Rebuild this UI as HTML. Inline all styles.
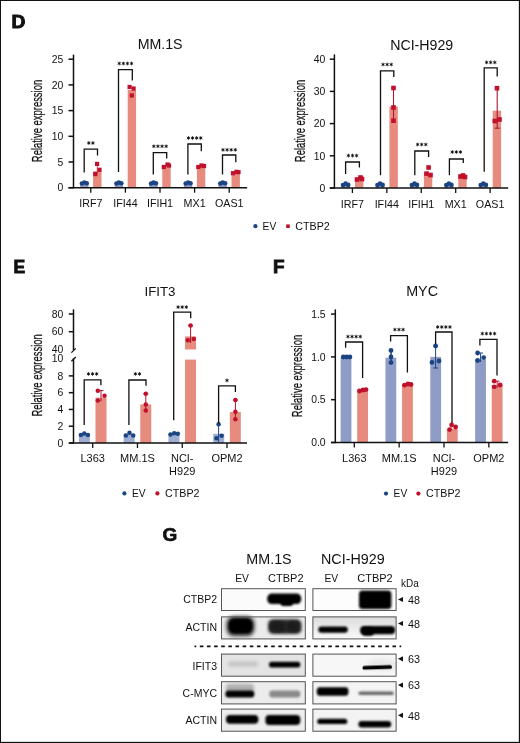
<!DOCTYPE html>
<html><head><meta charset="utf-8"><title>Figure</title>
<style>
html,body{margin:0;padding:0;background:#fff;overflow:hidden;width:520px;height:743px;}
#fig{position:relative;width:520px;height:743px;overflow:hidden;background:#fff;}
#fig svg{position:absolute;left:0;top:0;will-change:transform;}
text{font-family:"Liberation Sans", sans-serif;}
</style></head><body>
<div id="fig">
<svg width="520" height="743" viewBox="0 0 520 743" font-family="Liberation Sans, sans-serif">
<defs><filter id="b5" x="-50%" y="-100%" width="200%" height="300%"><feGaussianBlur stdDeviation="0.5"/></filter><filter id="b6" x="-50%" y="-100%" width="200%" height="300%"><feGaussianBlur stdDeviation="0.6"/></filter><filter id="b7" x="-50%" y="-100%" width="200%" height="300%"><feGaussianBlur stdDeviation="0.7"/></filter><filter id="b8" x="-50%" y="-100%" width="200%" height="300%"><feGaussianBlur stdDeviation="0.8"/></filter><filter id="b9" x="-50%" y="-100%" width="200%" height="300%"><feGaussianBlur stdDeviation="0.9"/></filter><filter id="b10" x="-50%" y="-100%" width="200%" height="300%"><feGaussianBlur stdDeviation="1.0"/></filter><filter id="b11" x="-50%" y="-100%" width="200%" height="300%"><feGaussianBlur stdDeviation="1.1"/></filter><filter id="b12" x="-50%" y="-100%" width="200%" height="300%"><feGaussianBlur stdDeviation="1.2"/></filter><filter id="b13" x="-50%" y="-100%" width="200%" height="300%"><feGaussianBlur stdDeviation="1.3"/></filter><filter id="b14" x="-50%" y="-100%" width="200%" height="300%"><feGaussianBlur stdDeviation="1.4"/></filter><filter id="b15" x="-50%" y="-100%" width="200%" height="300%"><feGaussianBlur stdDeviation="1.5"/></filter><filter id="b16" x="-50%" y="-100%" width="200%" height="300%"><feGaussianBlur stdDeviation="1.6"/></filter><filter id="b17" x="-50%" y="-100%" width="200%" height="300%"><feGaussianBlur stdDeviation="1.7"/></filter><filter id="b18" x="-50%" y="-100%" width="200%" height="300%"><feGaussianBlur stdDeviation="1.8"/></filter><filter id="b19" x="-50%" y="-100%" width="200%" height="300%"><feGaussianBlur stdDeviation="1.9"/></filter><linearGradient id="gH2" x1="0" y1="0" x2="0" y2="1"><stop offset="0" stop-color="#dcdcdc"/><stop offset="1" stop-color="#fafafa"/></linearGradient></defs>
<rect x="0" y="0" width="520" height="743" fill="#fff"/>
<text transform="translate(11.6,27.5) scale(1.08,1)" x="0" y="0" font-size="17.8" font-weight="bold" fill="#111" stroke="#111" stroke-width="0.9">D</text>
<text x="160.1" y="49.4" font-size="14.2" text-anchor="middle" font-weight="normal" fill="#111" >MM.1S</text>
<line x1="73.5" y1="54.6" x2="73.5" y2="188.29999999999998" stroke="#111" stroke-width="1.5" />
<line x1="68.5" y1="187.7" x2="73.5" y2="187.7" stroke="#111" stroke-width="1.5" />
<text x="63.3" y="191.39999999999998" font-size="10.4" text-anchor="end" font-weight="normal" fill="#111" >0</text>
<line x1="68.5" y1="162.0" x2="73.5" y2="162.0" stroke="#111" stroke-width="1.5" />
<text x="63.3" y="165.7" font-size="10.4" text-anchor="end" font-weight="normal" fill="#111" >5</text>
<line x1="68.5" y1="136.29999999999998" x2="73.5" y2="136.29999999999998" stroke="#111" stroke-width="1.5" />
<text x="63.3" y="139.99999999999997" font-size="10.4" text-anchor="end" font-weight="normal" fill="#111" >10</text>
<line x1="68.5" y1="110.6" x2="73.5" y2="110.6" stroke="#111" stroke-width="1.5" />
<text x="63.3" y="114.3" font-size="10.4" text-anchor="end" font-weight="normal" fill="#111" >15</text>
<line x1="68.5" y1="84.89999999999999" x2="73.5" y2="84.89999999999999" stroke="#111" stroke-width="1.5" />
<text x="63.3" y="88.6" font-size="10.4" text-anchor="end" font-weight="normal" fill="#111" >20</text>
<line x1="68.5" y1="59.19999999999999" x2="73.5" y2="59.19999999999999" stroke="#111" stroke-width="1.5" />
<text x="63.3" y="62.89999999999999" font-size="10.4" text-anchor="end" font-weight="normal" fill="#111" >25</text>
<text transform="translate(42.3,121) rotate(-90)" x="0" y="0" font-size="15" text-anchor="middle" fill="#111" stroke="#111" stroke-width="0.25" textLength="82.3" lengthAdjust="spacingAndGlyphs">Relative expression</text>
<rect x="80.1" y="182.56" width="8.4" height="5.14" fill="#8f9dc6" />
<rect x="93.1" y="171.25199999999998" width="8.4" height="16.448" fill="#e78b7e" />
<line x1="90.8" y1="187.7" x2="90.8" y2="192.7" stroke="#111" stroke-width="1.3" />
<text transform="translate(90.8,207.4) scale(1.05,1.0)" x="0" y="0" font-size="10.2" text-anchor="middle" fill="#111">IRF7</text>
<circle cx="81.89999999999999" cy="183.474" r="2.3" fill="#1b4482"/>
<circle cx="84.3" cy="182.446" r="2.3" fill="#1b4482"/>
<circle cx="86.7" cy="183.21699999999998" r="2.3" fill="#1b4482"/>
<rect x="114.7" y="182.56" width="8.4" height="5.14" fill="#8f9dc6" />
<rect x="127.7" y="90.03999999999999" width="8.4" height="97.66" fill="#e78b7e" />
<line x1="125.4" y1="187.7" x2="125.4" y2="192.7" stroke="#111" stroke-width="1.3" />
<text transform="translate(125.4,207.4) scale(1.05,1.0)" x="0" y="0" font-size="10.2" text-anchor="middle" fill="#111">IFI44</text>
<circle cx="116.5" cy="183.474" r="2.3" fill="#1b4482"/>
<circle cx="118.9" cy="182.446" r="2.3" fill="#1b4482"/>
<circle cx="121.30000000000001" cy="183.21699999999998" r="2.3" fill="#1b4482"/>
<rect x="149.3" y="182.56" width="8.4" height="5.14" fill="#8f9dc6" />
<rect x="162.3" y="165.084" width="8.4" height="22.616" fill="#e78b7e" />
<line x1="160.0" y1="187.7" x2="160.0" y2="192.7" stroke="#111" stroke-width="1.3" />
<text transform="translate(160.0,207.4) scale(1.05,1.0)" x="0" y="0" font-size="10.2" text-anchor="middle" fill="#111">IFIH1</text>
<circle cx="151.1" cy="183.474" r="2.3" fill="#1b4482"/>
<circle cx="153.5" cy="182.446" r="2.3" fill="#1b4482"/>
<circle cx="155.9" cy="183.21699999999998" r="2.3" fill="#1b4482"/>
<rect x="183.90000000000003" y="182.56" width="8.4" height="5.14" fill="#8f9dc6" />
<rect x="196.90000000000003" y="166.112" width="8.4" height="21.588" fill="#e78b7e" />
<line x1="194.60000000000002" y1="187.7" x2="194.60000000000002" y2="192.7" stroke="#111" stroke-width="1.3" />
<text transform="translate(194.60000000000002,207.4) scale(1.05,1.0)" x="0" y="0" font-size="10.2" text-anchor="middle" fill="#111">MX1</text>
<circle cx="185.70000000000002" cy="183.474" r="2.3" fill="#1b4482"/>
<circle cx="188.10000000000002" cy="182.446" r="2.3" fill="#1b4482"/>
<circle cx="190.50000000000003" cy="183.21699999999998" r="2.3" fill="#1b4482"/>
<rect x="218.5" y="182.56" width="8.4" height="5.14" fill="#8f9dc6" />
<rect x="231.5" y="171.766" width="8.4" height="15.934" fill="#e78b7e" />
<line x1="229.2" y1="187.7" x2="229.2" y2="192.7" stroke="#111" stroke-width="1.3" />
<text transform="translate(229.2,207.4) scale(1.05,1.0)" x="0" y="0" font-size="10.2" text-anchor="middle" fill="#111">OAS1</text>
<circle cx="220.29999999999998" cy="183.474" r="2.3" fill="#1b4482"/>
<circle cx="222.7" cy="182.446" r="2.3" fill="#1b4482"/>
<circle cx="225.1" cy="183.21699999999998" r="2.3" fill="#1b4482"/>
<line x1="68.5" y1="187.7" x2="247.2" y2="187.7" stroke="#111" stroke-width="1.5" />
<line x1="97.3" y1="163.9" x2="97.3" y2="174" stroke="#d23a50" stroke-width="0.9" />
<rect x="95.0" y="161.8" width="4.2" height="4.2" fill="#c0102c"/>
<rect x="97.4" y="167.70000000000002" width="4.2" height="4.2" fill="#c0102c"/>
<rect x="93.2" y="172.0" width="4.2" height="4.2" fill="#c0102c"/>
<rect x="127.5" y="84.9" width="4.2" height="4.2" fill="#c0102c"/>
<rect x="131.5" y="86.4" width="4.2" height="4.2" fill="#c0102c"/>
<rect x="129.70000000000002" y="93.4" width="4.2" height="4.2" fill="#c0102c"/>
<rect x="161.70000000000002" y="164.9" width="4.2" height="4.2" fill="#c0102c"/>
<rect x="165.4" y="162.4" width="4.2" height="4.2" fill="#c0102c"/>
<rect x="166.9" y="163.4" width="4.2" height="4.2" fill="#c0102c"/>
<rect x="196.20000000000002" y="164.9" width="4.2" height="4.2" fill="#c0102c"/>
<rect x="199.4" y="163.4" width="4.2" height="4.2" fill="#c0102c"/>
<rect x="201.9" y="163.9" width="4.2" height="4.2" fill="#c0102c"/>
<rect x="230.9" y="171.1" width="4.2" height="4.2" fill="#c0102c"/>
<rect x="234.4" y="169.70000000000002" width="4.2" height="4.2" fill="#c0102c"/>
<rect x="236.4" y="170.1" width="4.2" height="4.2" fill="#c0102c"/>
<polyline points="84.2,172.4 84.2,149.1 97.5,149.1 97.5,155.4" fill="none" stroke="#111" stroke-width="1.3"/>
<path d="M88.80,141.55L88.80,144.45M90.06,142.28L87.54,143.72M90.06,143.72L87.54,142.28" stroke="#111" stroke-width="0.85" stroke-linecap="round"/>
<circle cx="88.8" cy="143" r="0.75" fill="#111"/>
<path d="M92.90,141.55L92.90,144.45M94.16,142.28L91.64,143.72M94.16,143.72L91.64,142.28" stroke="#111" stroke-width="0.85" stroke-linecap="round"/>
<circle cx="92.9" cy="143" r="0.75" fill="#111"/>
<polyline points="118.5,172 118.5,69.7 132.3,69.7 132.3,80.5" fill="none" stroke="#111" stroke-width="1.3"/>
<path d="M119.25,62.05L119.25,64.95M120.51,62.77L117.99,64.22M120.51,64.22L117.99,62.77" stroke="#111" stroke-width="0.85" stroke-linecap="round"/>
<circle cx="119.25" cy="63.5" r="0.75" fill="#111"/>
<path d="M123.35,62.05L123.35,64.95M124.61,62.77L122.09,64.22M124.61,64.22L122.09,62.77" stroke="#111" stroke-width="0.85" stroke-linecap="round"/>
<circle cx="123.35" cy="63.5" r="0.75" fill="#111"/>
<path d="M127.45,62.05L127.45,64.95M128.71,62.77L126.19,64.22M128.71,64.22L126.19,62.77" stroke="#111" stroke-width="0.85" stroke-linecap="round"/>
<circle cx="127.45" cy="63.5" r="0.75" fill="#111"/>
<path d="M131.55,62.05L131.55,64.95M132.81,62.77L130.29,64.22M132.81,64.22L130.29,62.77" stroke="#111" stroke-width="0.85" stroke-linecap="round"/>
<circle cx="131.55" cy="63.5" r="0.75" fill="#111"/>
<polyline points="153.3,174.6 153.3,152.7 166.7,152.7 166.7,158.5" fill="none" stroke="#111" stroke-width="1.3"/>
<path d="M153.85,144.85L153.85,147.75M155.11,145.58L152.59,147.03M155.11,147.03L152.59,145.58" stroke="#111" stroke-width="0.85" stroke-linecap="round"/>
<circle cx="153.85" cy="146.3" r="0.75" fill="#111"/>
<path d="M157.95,144.85L157.95,147.75M159.21,145.58L156.69,147.03M159.21,147.03L156.69,145.58" stroke="#111" stroke-width="0.85" stroke-linecap="round"/>
<circle cx="157.95" cy="146.3" r="0.75" fill="#111"/>
<path d="M162.05,144.85L162.05,147.75M163.31,145.58L160.79,147.03M163.31,147.03L160.79,145.58" stroke="#111" stroke-width="0.85" stroke-linecap="round"/>
<circle cx="162.05" cy="146.3" r="0.75" fill="#111"/>
<path d="M166.15,144.85L166.15,147.75M167.41,145.58L164.89,147.03M167.41,147.03L164.89,145.58" stroke="#111" stroke-width="0.85" stroke-linecap="round"/>
<circle cx="166.15" cy="146.3" r="0.75" fill="#111"/>
<polyline points="187.9,174.6 187.9,144 201.3,144 201.3,151.2" fill="none" stroke="#111" stroke-width="1.3"/>
<path d="M188.45,136.55L188.45,139.45M189.71,137.28L187.19,138.72M189.71,138.72L187.19,137.28" stroke="#111" stroke-width="0.85" stroke-linecap="round"/>
<circle cx="188.45" cy="138" r="0.75" fill="#111"/>
<path d="M192.55,136.55L192.55,139.45M193.81,137.28L191.29,138.72M193.81,138.72L191.29,137.28" stroke="#111" stroke-width="0.85" stroke-linecap="round"/>
<circle cx="192.55" cy="138" r="0.75" fill="#111"/>
<path d="M196.65,136.55L196.65,139.45M197.91,137.28L195.39,138.72M197.91,138.72L195.39,137.28" stroke="#111" stroke-width="0.85" stroke-linecap="round"/>
<circle cx="196.65" cy="138" r="0.75" fill="#111"/>
<path d="M200.75,136.55L200.75,139.45M202.01,137.28L199.49,138.72M202.01,138.72L199.49,137.28" stroke="#111" stroke-width="0.85" stroke-linecap="round"/>
<circle cx="200.75" cy="138" r="0.75" fill="#111"/>
<polyline points="222.5,174.6 222.5,155 235.8,155 235.8,162.3" fill="none" stroke="#111" stroke-width="1.3"/>
<path d="M223.00,148.35L223.00,151.25M224.26,149.08L221.74,150.53M224.26,150.53L221.74,149.08" stroke="#111" stroke-width="0.85" stroke-linecap="round"/>
<circle cx="223.0" cy="149.8" r="0.75" fill="#111"/>
<path d="M227.10,148.35L227.10,151.25M228.36,149.08L225.84,150.53M228.36,150.53L225.84,149.08" stroke="#111" stroke-width="0.85" stroke-linecap="round"/>
<circle cx="227.1" cy="149.8" r="0.75" fill="#111"/>
<path d="M231.20,148.35L231.20,151.25M232.46,149.08L229.94,150.53M232.46,150.53L229.94,149.08" stroke="#111" stroke-width="0.85" stroke-linecap="round"/>
<circle cx="231.2" cy="149.8" r="0.75" fill="#111"/>
<path d="M235.30,148.35L235.30,151.25M236.56,149.08L234.04,150.53M236.56,150.53L234.04,149.08" stroke="#111" stroke-width="0.85" stroke-linecap="round"/>
<circle cx="235.3" cy="149.8" r="0.75" fill="#111"/>
<text x="421.7" y="49.9" font-size="14.2" text-anchor="middle" font-weight="normal" fill="#111" >NCI-H929</text>
<line x1="334.4" y1="54.4" x2="334.4" y2="188.6" stroke="#111" stroke-width="1.5" />
<line x1="329.8" y1="188.0" x2="334.4" y2="188.0" stroke="#111" stroke-width="1.5" />
<text x="325.2" y="191.7" font-size="10.4" text-anchor="end" font-weight="normal" fill="#111" >0</text>
<line x1="329.8" y1="155.8" x2="334.4" y2="155.8" stroke="#111" stroke-width="1.5" />
<text x="325.2" y="159.5" font-size="10.4" text-anchor="end" font-weight="normal" fill="#111" >10</text>
<line x1="329.8" y1="123.6" x2="334.4" y2="123.6" stroke="#111" stroke-width="1.5" />
<text x="325.2" y="127.3" font-size="10.4" text-anchor="end" font-weight="normal" fill="#111" >20</text>
<line x1="329.8" y1="91.39999999999999" x2="334.4" y2="91.39999999999999" stroke="#111" stroke-width="1.5" />
<text x="325.2" y="95.1" font-size="10.4" text-anchor="end" font-weight="normal" fill="#111" >30</text>
<line x1="329.8" y1="59.19999999999999" x2="334.4" y2="59.19999999999999" stroke="#111" stroke-width="1.5" />
<text x="325.2" y="62.89999999999999" font-size="10.4" text-anchor="end" font-weight="normal" fill="#111" >40</text>
<text transform="translate(305.2,121) rotate(-90)" x="0" y="0" font-size="15" text-anchor="middle" fill="#111" stroke="#111" stroke-width="0.25" textLength="82.3" lengthAdjust="spacingAndGlyphs">Relative expression</text>
<rect x="341.4" y="184.78" width="8.4" height="3.22" fill="#8f9dc6" />
<rect x="355.0" y="178.984" width="8.4" height="9.016" fill="#e78b7e" />
<line x1="352.4" y1="188.0" x2="352.4" y2="193.0" stroke="#111" stroke-width="1.3" />
<text transform="translate(352.4,207.6) scale(1.05,1.0)" x="0" y="0" font-size="10.2" text-anchor="middle" fill="#111">IRF7</text>
<circle cx="342.99999999999994" cy="185.1" r="2.3" fill="#1b4482"/>
<circle cx="348.2" cy="184.9" r="2.3" fill="#1b4482"/>
<circle cx="345.59999999999997" cy="183.6" r="2.3" fill="#1b4482"/>
<rect x="375.83" y="184.78" width="8.4" height="3.22" fill="#8f9dc6" />
<rect x="389.43" y="106.53399999999999" width="8.4" height="81.46600000000001" fill="#e78b7e" />
<line x1="386.83" y1="188.0" x2="386.83" y2="193.0" stroke="#111" stroke-width="1.3" />
<text transform="translate(386.83,207.6) scale(1.05,1.0)" x="0" y="0" font-size="10.2" text-anchor="middle" fill="#111">IFI44</text>
<circle cx="377.42999999999995" cy="185.1" r="2.3" fill="#1b4482"/>
<circle cx="382.63" cy="184.9" r="2.3" fill="#1b4482"/>
<circle cx="380.03" cy="183.6" r="2.3" fill="#1b4482"/>
<rect x="410.26" y="184.78" width="8.4" height="3.22" fill="#8f9dc6" />
<rect x="423.86" y="173.188" width="8.4" height="14.812" fill="#e78b7e" />
<line x1="421.26" y1="188.0" x2="421.26" y2="193.0" stroke="#111" stroke-width="1.3" />
<text transform="translate(421.26,207.6) scale(1.05,1.0)" x="0" y="0" font-size="10.2" text-anchor="middle" fill="#111">IFIH1</text>
<circle cx="411.85999999999996" cy="185.1" r="2.3" fill="#1b4482"/>
<circle cx="417.06" cy="184.9" r="2.3" fill="#1b4482"/>
<circle cx="414.46" cy="183.6" r="2.3" fill="#1b4482"/>
<rect x="444.68999999999994" y="184.78" width="8.4" height="3.22" fill="#8f9dc6" />
<rect x="458.28999999999996" y="176.73" width="8.4" height="11.270000000000001" fill="#e78b7e" />
<line x1="455.68999999999994" y1="188.0" x2="455.68999999999994" y2="193.0" stroke="#111" stroke-width="1.3" />
<text transform="translate(455.68999999999994,207.6) scale(1.05,1.0)" x="0" y="0" font-size="10.2" text-anchor="middle" fill="#111">MX1</text>
<circle cx="446.2899999999999" cy="185.1" r="2.3" fill="#1b4482"/>
<circle cx="451.48999999999995" cy="184.9" r="2.3" fill="#1b4482"/>
<circle cx="448.88999999999993" cy="183.6" r="2.3" fill="#1b4482"/>
<rect x="479.12" y="184.78" width="8.4" height="3.22" fill="#8f9dc6" />
<rect x="492.72" y="110.72" width="8.4" height="77.28" fill="#e78b7e" />
<line x1="490.12" y1="188.0" x2="490.12" y2="193.0" stroke="#111" stroke-width="1.3" />
<text transform="translate(490.12,207.6) scale(1.05,1.0)" x="0" y="0" font-size="10.2" text-anchor="middle" fill="#111">OAS1</text>
<circle cx="480.71999999999997" cy="185.1" r="2.3" fill="#1b4482"/>
<circle cx="485.92" cy="184.9" r="2.3" fill="#1b4482"/>
<circle cx="483.32" cy="183.6" r="2.3" fill="#1b4482"/>
<line x1="329.8" y1="188.0" x2="508.2" y2="188.0" stroke="#111" stroke-width="1.5" />
<line x1="393.5" y1="87.4" x2="393.5" y2="120.7" stroke="#a81a34" stroke-width="1.1" />
<line x1="497.2" y1="88.2" x2="497.2" y2="128.2" stroke="#a81a34" stroke-width="1.1" />
<line x1="494.7" y1="128.2" x2="499.7" y2="128.2" stroke="#a81a34" stroke-width="1.1" />
<rect x="354.7" y="177.2" width="4.6" height="4.6" fill="#c0102c"/>
<rect x="358.2" y="175.2" width="4.6" height="4.6" fill="#c0102c"/>
<rect x="359.7" y="176.7" width="4.6" height="4.6" fill="#c0102c"/>
<rect x="391.2" y="85.7" width="4.6" height="4.6" fill="#c0102c"/>
<rect x="391.2" y="105.2" width="4.6" height="4.6" fill="#c0102c"/>
<rect x="391.2" y="118.4" width="4.6" height="4.6" fill="#c0102c"/>
<rect x="426.3" y="165.2" width="4.6" height="4.6" fill="#c0102c"/>
<rect x="424.2" y="171.29999999999998" width="4.6" height="4.6" fill="#c0102c"/>
<rect x="428.2" y="172.7" width="4.6" height="4.6" fill="#c0102c"/>
<rect x="458.2" y="174.2" width="4.6" height="4.6" fill="#c0102c"/>
<rect x="460.7" y="173.2" width="4.6" height="4.6" fill="#c0102c"/>
<rect x="462.7" y="174.7" width="4.6" height="4.6" fill="#c0102c"/>
<rect x="494.7" y="85.9" width="4.6" height="4.6" fill="#c0102c"/>
<rect x="492.5" y="118.7" width="4.6" height="4.6" fill="#c0102c"/>
<rect x="497.2" y="117.2" width="4.6" height="4.6" fill="#c0102c"/>
<polyline points="345.6,174 345.6,162 359.4,162 359.4,167.6" fill="none" stroke="#111" stroke-width="1.3"/>
<path d="M348.40,154.15L348.40,157.05M349.66,154.88L347.14,156.32M349.66,156.32L347.14,154.88" stroke="#111" stroke-width="0.85" stroke-linecap="round"/>
<circle cx="348.4" cy="155.6" r="0.75" fill="#111"/>
<path d="M352.50,154.15L352.50,157.05M353.76,154.88L351.24,156.32M353.76,156.32L351.24,154.88" stroke="#111" stroke-width="0.85" stroke-linecap="round"/>
<circle cx="352.5" cy="155.6" r="0.75" fill="#111"/>
<path d="M356.60,154.15L356.60,157.05M357.86,154.88L355.34,156.32M357.86,156.32L355.34,154.88" stroke="#111" stroke-width="0.85" stroke-linecap="round"/>
<circle cx="356.6" cy="155.6" r="0.75" fill="#111"/>
<polyline points="380.5,175.2 380.5,70.8 393.8,70.8 393.8,76.9" fill="none" stroke="#111" stroke-width="1.3"/>
<path d="M383.05,63.05L383.05,65.95M384.31,63.77L381.79,65.22M384.31,65.22L381.79,63.77" stroke="#111" stroke-width="0.85" stroke-linecap="round"/>
<circle cx="383.05" cy="64.5" r="0.75" fill="#111"/>
<path d="M387.15,63.05L387.15,65.95M388.41,63.77L385.89,65.22M388.41,65.22L385.89,63.77" stroke="#111" stroke-width="0.85" stroke-linecap="round"/>
<circle cx="387.15" cy="64.5" r="0.75" fill="#111"/>
<path d="M391.25,63.05L391.25,65.95M392.51,63.77L389.99,65.22M392.51,65.22L389.99,63.77" stroke="#111" stroke-width="0.85" stroke-linecap="round"/>
<circle cx="391.25" cy="64.5" r="0.75" fill="#111"/>
<polyline points="414.8,175.2 414.8,151 428.6,151 428.6,157" fill="none" stroke="#111" stroke-width="1.3"/>
<path d="M417.60,143.05L417.60,145.95M418.86,143.78L416.34,145.22M418.86,145.22L416.34,143.78" stroke="#111" stroke-width="0.85" stroke-linecap="round"/>
<circle cx="417.6" cy="144.5" r="0.75" fill="#111"/>
<path d="M421.70,143.05L421.70,145.95M422.96,143.78L420.44,145.22M422.96,145.22L420.44,143.78" stroke="#111" stroke-width="0.85" stroke-linecap="round"/>
<circle cx="421.7" cy="144.5" r="0.75" fill="#111"/>
<path d="M425.80,143.05L425.80,145.95M427.06,143.78L424.54,145.22M427.06,145.22L424.54,143.78" stroke="#111" stroke-width="0.85" stroke-linecap="round"/>
<circle cx="425.8" cy="144.5" r="0.75" fill="#111"/>
<polyline points="449.4,175.2 449.4,159 463.3,159 463.3,163" fill="none" stroke="#111" stroke-width="1.3"/>
<path d="M452.25,150.55L452.25,153.45M453.51,151.28L450.99,152.72M453.51,152.72L450.99,151.28" stroke="#111" stroke-width="0.85" stroke-linecap="round"/>
<circle cx="452.25" cy="152" r="0.75" fill="#111"/>
<path d="M456.35,150.55L456.35,153.45M457.61,151.28L455.09,152.72M457.61,152.72L455.09,151.28" stroke="#111" stroke-width="0.85" stroke-linecap="round"/>
<circle cx="456.35" cy="152" r="0.75" fill="#111"/>
<path d="M460.45,150.55L460.45,153.45M461.71,151.28L459.19,152.72M461.71,152.72L459.19,151.28" stroke="#111" stroke-width="0.85" stroke-linecap="round"/>
<circle cx="460.45" cy="152" r="0.75" fill="#111"/>
<polyline points="484.2,171.8 484.2,67.8 497.2,67.8 497.2,76.5" fill="none" stroke="#111" stroke-width="1.3"/>
<path d="M486.60,60.95L486.60,63.85M487.86,61.67L485.34,63.12M487.86,63.12L485.34,61.67" stroke="#111" stroke-width="0.85" stroke-linecap="round"/>
<circle cx="486.6" cy="62.4" r="0.75" fill="#111"/>
<path d="M490.70,60.95L490.70,63.85M491.96,61.67L489.44,63.12M491.96,63.12L489.44,61.67" stroke="#111" stroke-width="0.85" stroke-linecap="round"/>
<circle cx="490.7" cy="62.4" r="0.75" fill="#111"/>
<path d="M494.80,60.95L494.80,63.85M496.06,61.67L493.54,63.12M496.06,63.12L493.54,61.67" stroke="#111" stroke-width="0.85" stroke-linecap="round"/>
<circle cx="494.8" cy="62.4" r="0.75" fill="#111"/>
<circle cx="255.4" cy="226.2" r="2.1" fill="#1b4482"/>
<text x="262.6" y="230.2" font-size="10.2" text-anchor="start" font-weight="normal" fill="#111" >EV</text>
<rect x="286.2" y="224.39999999999998" width="3.6" height="3.6" fill="#c0102c"/>
<text transform="translate(295.3,230.2) scale(1.05,1.0)" x="0" y="0" font-size="10.2" text-anchor="start" fill="#111">CTBP2</text>
<text transform="translate(13.4,272.9) scale(1.0,1)" x="0" y="0" font-size="17.5" font-weight="bold" fill="#111" stroke="#111" stroke-width="0.85">E</text>
<text x="160" y="295.8" font-size="13.3" text-anchor="middle" font-weight="normal" fill="#111" >IFIT3</text>
<line x1="73.5" y1="309.4" x2="73.5" y2="350.2" stroke="#111" stroke-width="1.5" />
<line x1="73.5" y1="358.4" x2="73.5" y2="443.6" stroke="#111" stroke-width="1.5" />
<line x1="71.4" y1="352.6" x2="75.8" y2="348.4" stroke="#111" stroke-width="1.3" />
<line x1="71.4" y1="361.2" x2="75.8" y2="357.0" stroke="#111" stroke-width="1.3" />
<line x1="68.8" y1="331.7" x2="73.5" y2="331.7" stroke="#111" stroke-width="1.5" />
<text x="63.2" y="335.4" font-size="10.4" text-anchor="end" font-weight="normal" fill="#111" >60</text>
<line x1="68.8" y1="314.0" x2="73.5" y2="314.0" stroke="#111" stroke-width="1.5" />
<text x="63.2" y="317.7" font-size="10.4" text-anchor="end" font-weight="normal" fill="#111" >80</text>
<text x="63.2" y="353.1" font-size="10.4" text-anchor="end" font-weight="normal" fill="#111" >40</text>
<text x="63.2" y="362.4" font-size="10.4" text-anchor="end" font-weight="normal" fill="#111" >10</text>
<line x1="68.8" y1="443.0" x2="73.5" y2="443.0" stroke="#111" stroke-width="1.5" />
<text x="63.2" y="446.7" font-size="10.4" text-anchor="end" font-weight="normal" fill="#111" >0</text>
<line x1="68.8" y1="426.22" x2="73.5" y2="426.22" stroke="#111" stroke-width="1.5" />
<text x="63.2" y="429.92" font-size="10.4" text-anchor="end" font-weight="normal" fill="#111" >2</text>
<line x1="68.8" y1="409.44" x2="73.5" y2="409.44" stroke="#111" stroke-width="1.5" />
<text x="63.2" y="413.14" font-size="10.4" text-anchor="end" font-weight="normal" fill="#111" >4</text>
<line x1="68.8" y1="392.65999999999997" x2="73.5" y2="392.65999999999997" stroke="#111" stroke-width="1.5" />
<text x="63.2" y="396.35999999999996" font-size="10.4" text-anchor="end" font-weight="normal" fill="#111" >6</text>
<line x1="68.8" y1="375.88" x2="73.5" y2="375.88" stroke="#111" stroke-width="1.5" />
<text x="63.2" y="379.58" font-size="10.4" text-anchor="end" font-weight="normal" fill="#111" >8</text>
<text transform="translate(42.3,375.4) rotate(-90)" x="0" y="0" font-size="15" text-anchor="middle" fill="#111" stroke="#111" stroke-width="0.25" textLength="82.3" lengthAdjust="spacingAndGlyphs">Relative expression</text>
<rect x="78.9" y="433.8" width="11" height="9.199999999999989" fill="#9fadd3" />
<rect x="95.5" y="397.694" width="11" height="45.306000000000004" fill="#e78b7e" />
<line x1="92.7" y1="443.0" x2="92.7" y2="448.0" stroke="#111" stroke-width="1.3" />
<rect x="123.66999999999999" y="433.8" width="11" height="9.199999999999989" fill="#9fadd3" />
<rect x="140.27" y="404.406" width="11" height="38.594" fill="#e78b7e" />
<line x1="137.47" y1="443.0" x2="137.47" y2="448.0" stroke="#111" stroke-width="1.3" />
<rect x="168.44" y="433.8" width="11" height="9.199999999999989" fill="#9fadd3" />
<rect x="185.04000000000002" y="359.6" width="11" height="83.39999999999998" fill="#e78b7e" />
<rect x="185.04000000000002" y="336.4" width="11" height="13.1" fill="#e78b7e" />
<line x1="182.24" y1="443.0" x2="182.24" y2="448.0" stroke="#111" stroke-width="1.3" />
<rect x="213.20999999999998" y="433.8" width="11" height="9.199999999999989" fill="#9fadd3" />
<rect x="229.81" y="411.957" width="11" height="31.043000000000003" fill="#e78b7e" />
<line x1="227.01" y1="443.0" x2="227.01" y2="448.0" stroke="#111" stroke-width="1.3" />
<text transform="translate(92.7,461.6) scale(1.1,1.0)" x="0" y="0" font-size="10.0" text-anchor="middle" fill="#111">L363</text>
<text transform="translate(137.47,461.6) scale(1.1,1.0)" x="0" y="0" font-size="10.0" text-anchor="middle" fill="#111">MM.1S</text>
<text transform="translate(182.24,461.6) scale(1.1,1.0)" x="0" y="0" font-size="10.0" text-anchor="middle" fill="#111">NCI-</text>
<text transform="translate(182.24,474.6) scale(1.1,1.0)" x="0" y="0" font-size="10.0" text-anchor="middle" fill="#111">H929</text>
<text transform="translate(227.01,461.6) scale(1.1,1.0)" x="0" y="0" font-size="10.0" text-anchor="middle" fill="#111">OPM2</text>
<line x1="68.8" y1="443.0" x2="247" y2="443.0" stroke="#111" stroke-width="1.5" />
<circle cx="80.9" cy="435.0" r="2.25" fill="#1b4482"/>
<circle cx="84.3" cy="433.4" r="2.25" fill="#1b4482"/>
<circle cx="87.9" cy="435.0" r="2.25" fill="#1b4482"/>
<circle cx="125.9" cy="435.5" r="2.25" fill="#1b4482"/>
<circle cx="129.5" cy="432.8" r="2.25" fill="#1b4482"/>
<circle cx="133.2" cy="435.5" r="2.25" fill="#1b4482"/>
<circle cx="170.5" cy="434.5" r="2.25" fill="#1b4482"/>
<circle cx="174.2" cy="433.3" r="2.25" fill="#1b4482"/>
<circle cx="177.8" cy="433.8" r="2.25" fill="#1b4482"/>
<line x1="218.6" y1="424.2" x2="218.6" y2="443" stroke="#1b4482" stroke-width="1.0" />
<circle cx="218.6" cy="424.2" r="2.25" fill="#1b4482"/>
<circle cx="216.4" cy="438.2" r="2.25" fill="#1b4482"/>
<circle cx="221.6" cy="435.8" r="2.25" fill="#1b4482"/>
<line x1="101" y1="390.6" x2="101" y2="401.5" stroke="#a8142e" stroke-width="1.0" />
<line x1="98.5" y1="390.6" x2="103.5" y2="390.6" stroke="#a8142e" stroke-width="1.0" />
<line x1="145.8" y1="393.8" x2="145.8" y2="410.4" stroke="#a8142e" stroke-width="1.0" />
<line x1="143.3" y1="393.8" x2="148.3" y2="393.8" stroke="#a8142e" stroke-width="1.0" />
<line x1="190.6" y1="325.7" x2="190.6" y2="343" stroke="#a8142e" stroke-width="1.0" />
<line x1="188.1" y1="325.7" x2="193.1" y2="325.7" stroke="#a8142e" stroke-width="1.0" />
<line x1="235.4" y1="400" x2="235.4" y2="419.2" stroke="#a8142e" stroke-width="1.0" />
<line x1="232.9" y1="400" x2="237.9" y2="400" stroke="#a8142e" stroke-width="1.0" />
<circle cx="97.8" cy="390.8" r="2.25" fill="#c0102c"/>
<circle cx="104.5" cy="395.8" r="2.25" fill="#c0102c"/>
<circle cx="97.8" cy="400.4" r="2.25" fill="#c0102c"/>
<circle cx="145.8" cy="393.8" r="2.25" fill="#c0102c"/>
<circle cx="145.8" cy="404.5" r="2.25" fill="#c0102c"/>
<circle cx="145.8" cy="410.4" r="2.25" fill="#c0102c"/>
<circle cx="190.6" cy="325.6" r="2.25" fill="#c0102c"/>
<circle cx="187.8" cy="340.2" r="2.25" fill="#c0102c"/>
<circle cx="193.8" cy="338.9" r="2.25" fill="#c0102c"/>
<circle cx="235.4" cy="400" r="2.25" fill="#c0102c"/>
<circle cx="235.4" cy="411.7" r="2.25" fill="#c0102c"/>
<circle cx="235.4" cy="419.2" r="2.25" fill="#c0102c"/>
<polyline points="84.2,425 84.2,379.8 100.9,379.8 100.9,385.3" fill="none" stroke="#111" stroke-width="1.3"/>
<path d="M88.45,372.45L88.45,375.35M89.71,373.17L87.19,374.62M89.71,374.62L87.19,373.17" stroke="#111" stroke-width="0.85" stroke-linecap="round"/>
<circle cx="88.45" cy="373.9" r="0.75" fill="#111"/>
<path d="M92.55,372.45L92.55,375.35M93.81,373.17L91.29,374.62M93.81,374.62L91.29,373.17" stroke="#111" stroke-width="0.85" stroke-linecap="round"/>
<circle cx="92.55" cy="373.9" r="0.75" fill="#111"/>
<path d="M96.65,372.45L96.65,375.35M97.91,373.17L95.39,374.62M97.91,374.62L95.39,373.17" stroke="#111" stroke-width="0.85" stroke-linecap="round"/>
<circle cx="96.65" cy="373.9" r="0.75" fill="#111"/>
<polyline points="128.9,425 128.9,380 146,380 146,385.8" fill="none" stroke="#111" stroke-width="1.3"/>
<path d="M135.40,372.45L135.40,375.35M136.66,373.17L134.14,374.62M136.66,374.62L134.14,373.17" stroke="#111" stroke-width="0.85" stroke-linecap="round"/>
<circle cx="135.4" cy="373.9" r="0.75" fill="#111"/>
<path d="M139.50,372.45L139.50,375.35M140.76,373.17L138.24,374.62M140.76,374.62L138.24,373.17" stroke="#111" stroke-width="0.85" stroke-linecap="round"/>
<circle cx="139.5" cy="373.9" r="0.75" fill="#111"/>
<polyline points="173.7,420.2 173.7,312.1 190.7,312.1 190.7,318.2" fill="none" stroke="#111" stroke-width="1.3"/>
<path d="M178.10,305.65L178.10,308.55M179.36,306.38L176.84,307.83M179.36,307.83L176.84,306.38" stroke="#111" stroke-width="0.85" stroke-linecap="round"/>
<circle cx="178.1" cy="307.1" r="0.75" fill="#111"/>
<path d="M182.20,305.65L182.20,308.55M183.46,306.38L180.94,307.83M183.46,307.83L180.94,306.38" stroke="#111" stroke-width="0.85" stroke-linecap="round"/>
<circle cx="182.2" cy="307.1" r="0.75" fill="#111"/>
<path d="M186.30,305.65L186.30,308.55M187.56,306.38L185.04,307.83M187.56,307.83L185.04,306.38" stroke="#111" stroke-width="0.85" stroke-linecap="round"/>
<circle cx="186.3" cy="307.1" r="0.75" fill="#111"/>
<polyline points="218.6,423.6 218.6,385.9 235.4,385.9 235.4,392" fill="none" stroke="#111" stroke-width="1.3"/>
<path d="M227.00,378.95L227.00,381.85M228.26,379.67L225.74,381.12M228.26,381.12L225.74,379.67" stroke="#111" stroke-width="0.85" stroke-linecap="round"/>
<circle cx="227.0" cy="380.4" r="0.75" fill="#111"/>
<circle cx="124.4" cy="493.4" r="2.1" fill="#1b4482"/>
<text x="132" y="496.8" font-size="10.2" text-anchor="start" font-weight="normal" fill="#111" >EV</text>
<circle cx="157.4" cy="493.4" r="2.1" fill="#c0102c"/>
<text transform="translate(165,496.8) scale(1.05,1.0)" x="0" y="0" font-size="10.2" text-anchor="start" fill="#111">CTBP2</text>
<text transform="translate(272.9,272.9) scale(1.08,1)" x="0" y="0" font-size="17.5" font-weight="bold" fill="#111" stroke="#111" stroke-width="0.85">F</text>
<text x="422.1" y="296.2" font-size="14.3" text-anchor="middle" font-weight="normal" fill="#111" >MYC</text>
<line x1="335.3" y1="309.4" x2="335.3" y2="443.1" stroke="#111" stroke-width="1.5" />
<line x1="331" y1="442.5" x2="335.3" y2="442.5" stroke="#111" stroke-width="1.5" />
<text x="325.6" y="446.2" font-size="10.4" text-anchor="end" font-weight="normal" fill="#111" >0.0</text>
<line x1="331" y1="399.7" x2="335.3" y2="399.7" stroke="#111" stroke-width="1.5" />
<text x="325.6" y="403.4" font-size="10.4" text-anchor="end" font-weight="normal" fill="#111" >0.5</text>
<line x1="331" y1="356.9" x2="335.3" y2="356.9" stroke="#111" stroke-width="1.5" />
<text x="325.6" y="360.59999999999997" font-size="10.4" text-anchor="end" font-weight="normal" fill="#111" >1.0</text>
<line x1="331" y1="314.1" x2="335.3" y2="314.1" stroke="#111" stroke-width="1.5" />
<text x="325.6" y="317.8" font-size="10.4" text-anchor="end" font-weight="normal" fill="#111" >1.5</text>
<text transform="translate(302.2,376) rotate(-90)" x="0" y="0" font-size="15" text-anchor="middle" fill="#111" stroke="#111" stroke-width="0.25" textLength="82.3" lengthAdjust="spacingAndGlyphs">Relative expression</text>
<rect x="340.6" y="356.9" width="10.8" height="85.6" fill="#8f9dc6" />
<rect x="357.20000000000005" y="390.284" width="10.8" height="52.215999999999994" fill="#e78b7e" />
<line x1="354.3" y1="442.5" x2="354.3" y2="447.5" stroke="#111" stroke-width="1.3" />
<rect x="385.45000000000005" y="357.756" width="10.8" height="84.744" fill="#8f9dc6" />
<rect x="402.05000000000007" y="384.29200000000003" width="10.8" height="58.208" fill="#e78b7e" />
<line x1="399.15000000000003" y1="442.5" x2="399.15000000000003" y2="447.5" stroke="#111" stroke-width="1.3" />
<rect x="430.3" y="356.9" width="10.8" height="85.6" fill="#8f9dc6" />
<rect x="446.90000000000003" y="428.804" width="10.8" height="13.696" fill="#e78b7e" />
<line x1="444.0" y1="442.5" x2="444.0" y2="447.5" stroke="#111" stroke-width="1.3" />
<rect x="475.15000000000003" y="359.468" width="10.8" height="83.032" fill="#8f9dc6" />
<rect x="491.75000000000006" y="385.148" width="10.8" height="57.352" fill="#e78b7e" />
<line x1="488.85" y1="442.5" x2="488.85" y2="447.5" stroke="#111" stroke-width="1.3" />
<text transform="translate(354.3,461.6) scale(1.1,1.0)" x="0" y="0" font-size="10.0" text-anchor="middle" fill="#111">L363</text>
<text transform="translate(399.15000000000003,461.6) scale(1.1,1.0)" x="0" y="0" font-size="10.0" text-anchor="middle" fill="#111">MM.1S</text>
<text transform="translate(444.0,461.6) scale(1.1,1.0)" x="0" y="0" font-size="10.0" text-anchor="middle" fill="#111">NCI-</text>
<text transform="translate(444.0,474.6) scale(1.1,1.0)" x="0" y="0" font-size="10.0" text-anchor="middle" fill="#111">H929</text>
<text transform="translate(488.85,461.6) scale(1.1,1.0)" x="0" y="0" font-size="10.0" text-anchor="middle" fill="#111">OPM2</text>
<line x1="331" y1="442.5" x2="508.2" y2="442.5" stroke="#111" stroke-width="1.5" />
<line x1="391" y1="350.4" x2="391" y2="362.6" stroke="#1b4482" stroke-width="1.0" />
<line x1="435.6" y1="346" x2="435.6" y2="368" stroke="#1b4482" stroke-width="1.0" />
<line x1="480.6" y1="353" x2="480.6" y2="362" stroke="#1b4482" stroke-width="1.0" />
<line x1="478.2" y1="353" x2="483.0" y2="353" stroke="#1b4482" stroke-width="1.0" />
<line x1="497.2" y1="381.2" x2="497.2" y2="388" stroke="#c0102c" stroke-width="1.0" />
<line x1="494.8" y1="381.2" x2="499.6" y2="381.2" stroke="#c0102c" stroke-width="1.0" />
<line x1="391" y1="350.4" x2="391" y2="362.6" stroke="#1b4482" stroke-width="1.0" />
<line x1="433.2" y1="346" x2="438.0" y2="346" stroke="#1b4482" stroke-width="1.0" />
<line x1="433.2" y1="368" x2="438.0" y2="368" stroke="#1b4482" stroke-width="1.0" />
<circle cx="343.3" cy="357" r="2.4" fill="#1b4482"/>
<circle cx="346.6" cy="357" r="2.4" fill="#1b4482"/>
<circle cx="349.9" cy="357" r="2.4" fill="#1b4482"/>
<circle cx="391" cy="350.4" r="2.4" fill="#1b4482"/>
<circle cx="391" cy="357" r="2.4" fill="#1b4482"/>
<circle cx="391" cy="362.6" r="2.4" fill="#1b4482"/>
<circle cx="435.6" cy="346" r="2.4" fill="#1b4482"/>
<circle cx="432" cy="362.4" r="2.4" fill="#1b4482"/>
<circle cx="439" cy="361" r="2.4" fill="#1b4482"/>
<circle cx="477.6" cy="353" r="2.4" fill="#1b4482"/>
<circle cx="477.6" cy="360.5" r="2.4" fill="#1b4482"/>
<circle cx="483.7" cy="357.6" r="2.4" fill="#1b4482"/>
<circle cx="359.5" cy="391" r="2.4" fill="#c0102c"/>
<circle cx="363" cy="390" r="2.4" fill="#c0102c"/>
<circle cx="366" cy="389.6" r="2.4" fill="#c0102c"/>
<circle cx="404.5" cy="385.2" r="2.4" fill="#c0102c"/>
<circle cx="408" cy="384" r="2.4" fill="#c0102c"/>
<circle cx="411" cy="384.5" r="2.4" fill="#c0102c"/>
<circle cx="449.6" cy="429.6" r="2.4" fill="#c0102c"/>
<circle cx="451.6" cy="425" r="2.4" fill="#c0102c"/>
<circle cx="455.6" cy="427" r="2.4" fill="#c0102c"/>
<circle cx="494.2" cy="381.2" r="2.4" fill="#c0102c"/>
<circle cx="494.2" cy="386.8" r="2.4" fill="#c0102c"/>
<circle cx="500.2" cy="385" r="2.4" fill="#c0102c"/>
<polyline points="345.6,347.8 345.6,342 362.6,342 362.6,378" fill="none" stroke="#111" stroke-width="1.3"/>
<path d="M347.95,335.15L347.95,338.05M349.21,335.88L346.69,337.33M349.21,337.33L346.69,335.88" stroke="#111" stroke-width="0.85" stroke-linecap="round"/>
<circle cx="347.95" cy="336.6" r="0.75" fill="#111"/>
<path d="M352.05,335.15L352.05,338.05M353.31,335.88L350.79,337.33M353.31,337.33L350.79,335.88" stroke="#111" stroke-width="0.85" stroke-linecap="round"/>
<circle cx="352.05" cy="336.6" r="0.75" fill="#111"/>
<path d="M356.15,335.15L356.15,338.05M357.41,335.88L354.89,337.33M357.41,337.33L354.89,335.88" stroke="#111" stroke-width="0.85" stroke-linecap="round"/>
<circle cx="356.15" cy="336.6" r="0.75" fill="#111"/>
<path d="M360.25,335.15L360.25,338.05M361.51,335.88L358.99,337.33M361.51,337.33L358.99,335.88" stroke="#111" stroke-width="0.85" stroke-linecap="round"/>
<circle cx="360.25" cy="336.6" r="0.75" fill="#111"/>
<polyline points="390.6,341.6 390.6,335.6 407.4,335.6 407.4,372.4" fill="none" stroke="#111" stroke-width="1.3"/>
<path d="M394.90,328.15L394.90,331.05M396.16,328.88L393.64,330.33M396.16,330.33L393.64,328.88" stroke="#111" stroke-width="0.85" stroke-linecap="round"/>
<circle cx="394.9" cy="329.6" r="0.75" fill="#111"/>
<path d="M399.00,328.15L399.00,331.05M400.26,328.88L397.74,330.33M400.26,330.33L397.74,328.88" stroke="#111" stroke-width="0.85" stroke-linecap="round"/>
<circle cx="399.0" cy="329.6" r="0.75" fill="#111"/>
<path d="M403.10,328.15L403.10,331.05M404.36,328.88L401.84,330.33M404.36,330.33L401.84,328.88" stroke="#111" stroke-width="0.85" stroke-linecap="round"/>
<circle cx="403.1" cy="329.6" r="0.75" fill="#111"/>
<polyline points="435.6,344 435.6,332 452,332 452,423" fill="none" stroke="#111" stroke-width="1.3"/>
<path d="M437.65,325.55L437.65,328.45M438.91,326.27L436.39,327.73M438.91,327.73L436.39,326.27" stroke="#111" stroke-width="0.85" stroke-linecap="round"/>
<circle cx="437.65" cy="327" r="0.75" fill="#111"/>
<path d="M441.75,325.55L441.75,328.45M443.01,326.27L440.49,327.73M443.01,327.73L440.49,326.27" stroke="#111" stroke-width="0.85" stroke-linecap="round"/>
<circle cx="441.75" cy="327" r="0.75" fill="#111"/>
<path d="M445.85,325.55L445.85,328.45M447.11,326.27L444.59,327.73M447.11,327.73L444.59,326.27" stroke="#111" stroke-width="0.85" stroke-linecap="round"/>
<circle cx="445.85" cy="327" r="0.75" fill="#111"/>
<path d="M449.95,325.55L449.95,328.45M451.21,326.27L448.69,327.73M451.21,327.73L448.69,326.27" stroke="#111" stroke-width="0.85" stroke-linecap="round"/>
<circle cx="449.95" cy="327" r="0.75" fill="#111"/>
<polyline points="479.9,345.4 479.9,339.4 497,339.4 497,375.5" fill="none" stroke="#111" stroke-width="1.3"/>
<path d="M482.30,332.15L482.30,335.05M483.56,332.88L481.04,334.33M483.56,334.33L481.04,332.88" stroke="#111" stroke-width="0.85" stroke-linecap="round"/>
<circle cx="482.3" cy="333.6" r="0.75" fill="#111"/>
<path d="M486.40,332.15L486.40,335.05M487.66,332.88L485.14,334.33M487.66,334.33L485.14,332.88" stroke="#111" stroke-width="0.85" stroke-linecap="round"/>
<circle cx="486.4" cy="333.6" r="0.75" fill="#111"/>
<path d="M490.50,332.15L490.50,335.05M491.76,332.88L489.24,334.33M491.76,334.33L489.24,332.88" stroke="#111" stroke-width="0.85" stroke-linecap="round"/>
<circle cx="490.5" cy="333.6" r="0.75" fill="#111"/>
<path d="M494.60,332.15L494.60,335.05M495.86,332.88L493.34,334.33M495.86,334.33L493.34,332.88" stroke="#111" stroke-width="0.85" stroke-linecap="round"/>
<circle cx="494.6" cy="333.6" r="0.75" fill="#111"/>
<circle cx="386" cy="493.6" r="2.1" fill="#1b4482"/>
<text x="393.6" y="496.8" font-size="10.2" text-anchor="start" font-weight="normal" fill="#111" >EV</text>
<circle cx="418.4" cy="493.6" r="2.1" fill="#c0102c"/>
<text transform="translate(426,496.8) scale(1.05,1.0)" x="0" y="0" font-size="10.2" text-anchor="start" fill="#111">CTBP2</text>
<text transform="translate(162.5,541.3) scale(1.01,1)" x="0" y="0" font-size="18.8" font-weight="bold" fill="#111" stroke="#111" stroke-width="0.7">G</text>
<text x="269" y="564.2" font-size="14.3" text-anchor="middle" font-weight="normal" fill="#111" >MM.1S</text>
<text x="352.8" y="564.2" font-size="14.3" text-anchor="middle" font-weight="normal" fill="#111" >NCI-H929</text>
<text x="242" y="581.8" font-size="10.3" text-anchor="middle" font-weight="normal" fill="#111" >EV</text>
<text transform="translate(285.8,581.8) scale(1.07,1.0)" x="0" y="0" font-size="10.3" text-anchor="middle" fill="#111">CTBP2</text>
<text x="331.3" y="581.8" font-size="10.3" text-anchor="middle" font-weight="normal" fill="#111" >EV</text>
<text transform="translate(375,581.8) scale(1.07,1.0)" x="0" y="0" font-size="10.3" text-anchor="middle" fill="#111">CTBP2</text>
<text x="401.0" y="587.0" font-size="10.0" text-anchor="start" font-weight="normal" fill="#111" >kDa</text>
<text x="217" y="603.0" font-size="10.5" text-anchor="end" font-weight="normal" fill="#111" >CTBP2</text>
<polygon points="398,599.5 403,596.9 403,602.1" fill="#111"/>
<text x="408" y="603.8" font-size="10.8" text-anchor="start" font-weight="normal" fill="#111" >48</text>
<text x="217" y="630.6" font-size="10.5" text-anchor="end" font-weight="normal" fill="#111" >ACTIN</text>
<polygon points="398,623.5 403,620.9 403,626.1" fill="#111"/>
<text x="408" y="627.8" font-size="10.8" text-anchor="start" font-weight="normal" fill="#111" >48</text>
<text x="217" y="670.0" font-size="10.5" text-anchor="end" font-weight="normal" fill="#111" >IFIT3</text>
<polygon points="398,658.8 403,656.1999999999999 403,661.4" fill="#111"/>
<text x="408" y="663.0999999999999" font-size="10.8" text-anchor="start" font-weight="normal" fill="#111" >63</text>
<text x="217" y="696.9" font-size="10.5" text-anchor="end" font-weight="normal" fill="#111" >C-MYC</text>
<polygon points="398,685.1 403,682.5 403,687.7" fill="#111"/>
<text x="408" y="689.4" font-size="10.8" text-anchor="start" font-weight="normal" fill="#111" >63</text>
<text x="217" y="724.2" font-size="10.5" text-anchor="end" font-weight="normal" fill="#111" >ACTIN</text>
<polygon points="398,715.3 403,712.6999999999999 403,717.9" fill="#111"/>
<text x="408" y="719.5999999999999" font-size="10.8" text-anchor="start" font-weight="normal" fill="#111" >48</text>
<rect x="221.0" y="588.2" width="84.80000000000001" height="22.799999999999955" fill="#fbfbfb"/>
<rect x="312.4" y="588.2" width="84.20000000000005" height="22.799999999999955" fill="#fdfdfd"/>
<rect x="221.0" y="616.4" width="84.80000000000001" height="23.0" fill="#ececec"/>
<rect x="312.4" y="616.4" width="84.20000000000005" height="23.0" fill="url(#gH2)"/>
<rect x="221.0" y="653.6" width="84.80000000000001" height="23.100000000000023" fill="#e4e4e4"/>
<rect x="312.4" y="653.6" width="84.20000000000005" height="23.100000000000023" fill="#f7f7f7"/>
<rect x="221.0" y="681.2" width="84.80000000000001" height="23.199999999999932" fill="#ececec"/>
<rect x="312.4" y="681.2" width="84.20000000000005" height="23.199999999999932" fill="#f4f4f4"/>
<rect x="221.0" y="708.6" width="84.80000000000001" height="23.100000000000023" fill="#ededed"/>
<rect x="312.4" y="708.6" width="84.20000000000005" height="23.100000000000023" fill="#f3f3f3"/>
<ellipse cx="382" cy="665" rx="15" ry="6" fill="#e6e6e6" filter="url(#b19)"/>
<rect x="267.2" y="593.6" width="34.0" height="10.4" rx="4.5" fill="#000" filter="url(#b9)"/>
<rect x="280.5" y="599" width="12.5" height="7.0" rx="3" fill="#000" filter="url(#b11)"/>
<rect x="227.0" y="616.8" width="27.0" height="18.8" rx="6.5" fill="#000" filter="url(#b19)"/>
<rect x="229.5" y="619.5" width="22.0" height="12.5" rx="5" fill="#000" filter="url(#b10)"/>
<rect x="268.0" y="619.2" width="33.6" height="14.8" rx="5" fill="#2a2a2a" filter="url(#b18)"/>
<rect x="270.5" y="621.5" width="14.5" height="10.0" rx="4" fill="#1a1a1a" filter="url(#b12)"/>
<rect x="287" y="621.5" width="12.0" height="10.0" rx="4" fill="#1a1a1a" filter="url(#b12)"/>
<rect x="228" y="661" width="30.0" height="6.0" rx="3" fill="#c8c8c8" filter="url(#b15)"/>
<rect x="269" y="661.8" width="31.3" height="5.7" rx="2.5" fill="#000" filter="url(#b8)"/>
<rect x="226" y="684" width="28.0" height="8.0" rx="3" fill="#b0b0b0" filter="url(#b15)"/>
<rect x="225.4" y="690.5" width="28.9" height="7.1" rx="3" fill="#050505" filter="url(#b9)"/>
<rect x="269.3" y="690.5" width="31.0" height="7.1" rx="3" fill="#8a8a8a" filter="url(#b10)"/>
<rect x="226" y="714.9" width="32.4" height="8.9" rx="4" fill="#000" filter="url(#b8)"/>
<rect x="265.4" y="714.9" width="34.9" height="10.1" rx="4" fill="#000" filter="url(#b8)"/>
<rect x="359.0" y="590.5" width="32.4" height="18.5" rx="3.5" fill="#000" filter="url(#b8)"/>
<rect x="318.3" y="626.6" width="29.5" height="6.2" rx="3" fill="#000" filter="url(#b8)"/>
<rect x="360.2" y="626" width="34.9" height="8.2" rx="4" fill="#000" filter="url(#b8)"/>
<rect x="361.5" y="627.5" width="12.5" height="8.3" rx="4" fill="#000" filter="url(#b8)"/>
<rect x="362.5" y="665.5" width="29.5" height="3.8" rx="1.9" fill="#000" filter="url(#b6)" transform="rotate(-1.8 377.25 667.4)"/>
<rect x="316.8" y="687.3" width="31.6" height="8.5" rx="3" fill="#000" filter="url(#b8)"/>
<rect x="358.4" y="691.4" width="35.4" height="3.5" rx="1.8" fill="#666" filter="url(#b8)"/>
<rect x="317.2" y="718.8" width="30.1" height="5.3" rx="2.6" fill="#000" filter="url(#b8)"/>
<rect x="358.4" y="720.9" width="32.8" height="6.7" rx="3" fill="#000" filter="url(#b8)"/>
<rect x="221.5" y="588.7" width="83.8" height="21.8" fill="none" stroke="#555" stroke-width="1"/>
<rect x="312.9" y="588.7" width="83.2" height="21.8" fill="none" stroke="#555" stroke-width="1"/>
<rect x="221.5" y="616.9" width="83.8" height="22.0" fill="none" stroke="#555" stroke-width="1"/>
<rect x="312.9" y="616.9" width="83.2" height="22.0" fill="none" stroke="#555" stroke-width="1"/>
<rect x="221.5" y="654.1" width="83.8" height="22.1" fill="none" stroke="#555" stroke-width="1"/>
<rect x="312.9" y="654.1" width="83.2" height="22.1" fill="none" stroke="#555" stroke-width="1"/>
<rect x="221.5" y="681.7" width="83.8" height="22.2" fill="none" stroke="#555" stroke-width="1"/>
<rect x="312.9" y="681.7" width="83.2" height="22.2" fill="none" stroke="#555" stroke-width="1"/>
<rect x="221.5" y="709.1" width="83.8" height="22.1" fill="none" stroke="#555" stroke-width="1"/>
<rect x="312.9" y="709.1" width="83.2" height="22.1" fill="none" stroke="#555" stroke-width="1"/>
<line x1="194.5" y1="646.4" x2="401.2" y2="646.4" stroke="#111" stroke-width="1.8" stroke-dasharray="3.6,3.536" stroke-dashoffset="1.84"/>
<rect x="0.5" y="0.5" width="519" height="742" fill="none" stroke="#111" stroke-width="1"/>
<rect x="518.85" y="0" width="1.15" height="743" fill="#111"/>
<rect x="0" y="741.85" width="520" height="1.15" fill="#111"/>
</svg>
</div>
</body></html>
